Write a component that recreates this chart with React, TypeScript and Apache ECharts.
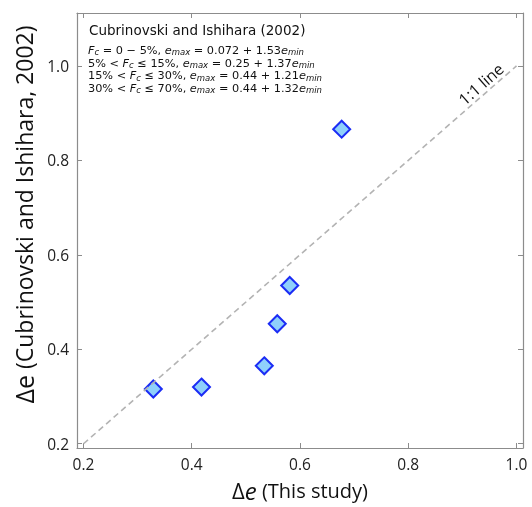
import React, { useEffect, useRef } from "react";
import * as echarts from "echarts";

const thisStudy = [0.329, 0.418, 0.534, 0.558, 0.581, 0.677];
const cubrinovski = [0.316, 0.32, 0.365, 0.454, 0.535, 0.866];
const tickValues = [0.2, 0.4, 0.6, 0.8, 1.0];
const oneToOne = [0.2, 1.0];

const FONT = "'Open Sans', 'Noto Sans', sans-serif";
const AFONT = "'DejaVu Sans', 'Open Sans', sans-serif";
const AXIS_COLOR = "#8c8c8c";

export default function App() {
  const ref = useRef<HTMLDivElement>(null);
  useEffect(() => {
    if (!ref.current) return;
    const chart = echarts.init(ref.current, undefined, { renderer: "svg" });
    const xMin = 0.188, xMax = 1.012, yMin = 0.191, yMax = 1.112;
    const tickFmt = (v: number) => v.toFixed(1);
    const baseAxis = (pos: string, min: number, max: number, labels: boolean) => ({
      type: "value",
      position: pos,
      min,
      max,
      splitLine: { show: false },
      axisLine: { show: true, onZero: false, lineStyle: { color: AXIS_COLOR, width: 1.2 } },
      axisTick: {
        show: true,
        inside: true,
        length: 5,
        customValues: tickValues,
        lineStyle: { color: AXIS_COLOR, width: 1 },
      },
      axisLabel: {
        show: labels,
        customValues: tickValues,
        formatter: tickFmt,
        color: "#222",
        fontSize: 15.5,
        fontFamily: FONT,
        margin: 8,
      },
    });
    const LH = 12.7;
    const sub = { fontSize: 8.5, fontStyle: "italic", verticalAlign: "bottom", fontFamily: AFONT, fill: "#111", lineHeight: LH };
    const it = { fontSize: 11.3, fontStyle: "italic", fontFamily: AFONT, fill: "#111", lineHeight: LH };
    const nm = { fontSize: 11.3, fontFamily: AFONT, fill: "#111", lineHeight: LH };
    const annLines = [
      "{i|F}{s|c}{n| = 0 − 5%, }{i|e}{s|max}{n| = 0.072 + 1.53}{i|e}{s|min}",
      "{n|5% < }{i|F}{s|c}{n| ≤ 15%, }{i|e}{s|max}{n| = 0.25 + 1.37}{i|e}{s|min}",
      "{n|15% < }{i|F}{s|c}{n| ≤ 30%, }{i|e}{s|max}{n| = 0.44 + 1.21}{i|e}{s|min}",
      "{n|30% < }{i|F}{s|c}{n| ≤ 70%, }{i|e}{s|max}{n| = 0.44 + 1.32}{i|e}{s|min}",
    ].join("\n");

    const xName = {
      ...baseAxis("bottom", xMin, xMax, true),
      name: "{d|Δ}{e|e}{n| (This study)}",
      nameLocation: "middle",
      nameGap: 30,
      nameTextStyle: {
        rich: {
          d: { fontSize: 22, fontFamily: FONT, color: "#111" },
          e: { fontSize: 24, fontStyle: "italic", fontFamily: FONT, color: "#111" },
          n: { fontSize: 20, fontFamily: FONT, color: "#111" },
        },
      },
    };
    const yName = {
      ...baseAxis("left", yMin, yMax, true),
      name: "{d|Δ}{e|e}{n| (Cubrinovski and Ishihara, 2002)}",
      nameLocation: "middle",
      nameGap: 41,
      nameTextStyle: {
        padding: [0, 0, 0, 32],
        rich: {
          d: { fontSize: 25, fontFamily: FONT, color: "#111" },
          e: { fontSize: 25, fontFamily: FONT, color: "#111" },
          n: { fontSize: 23, fontFamily: FONT, color: "#111" },
        },
      },
    };

    chart.setOption({
      animation: false,
      grid: { left: 77, right: 9, top: 13, bottom: 58, containLabel: false },
      xAxis: [xName, baseAxis("top", xMin, xMax, false)],
      yAxis: [yName, baseAxis("right", yMin, yMax, false)],
      graphic: [
        {
          type: "text",
          left: 89,
          top: 23,
          style: { text: "Cubrinovski and Ishihara (2002)", fontSize: 13.5, fontFamily: AFONT, fill: "#111" },
        },
        {
          type: "text",
          left: 88,
          top: 45,
          style: { text: annLines, rich: { i: it, s: sub, n: nm } },
        },
        {
          type: "text",
          x: 481,
          y: 84,
          rotation: (41.2 * Math.PI) / 180,
          style: {
            text: "1:1 line",
            fontSize: 16,
            fontFamily: FONT,
            fill: "#111",
            align: "center",
            verticalAlign: "middle",
          },
        },
      ],
      series: [
        {
          type: "scatter",
          data: thisStudy.map((x, i) => [x, cubrinovski[i]]),
          symbol: "diamond",
          symbolSize: 17,
          itemStyle: { color: "#8fd0fb", borderColor: "#1b2cf5", borderWidth: 2, opacity: 1 },
          z: 3,
          markLine: {
            silent: true,
            symbol: "none",
            animation: false,
            lineStyle: { color: "#b3b3b3", width: 1.6, type: [6, 4] },
            label: { show: false },
            data: [[{ coord: [oneToOne[0], oneToOne[0]] }, { coord: [oneToOne[1], oneToOne[1]] }]],
          },
        },
      ],
    });
    return () => chart.dispose();
  }, []);
  return <div ref={ref} style={{ position: "fixed", left: 0, top: 0, width: 532, height: 507 }} />;
}
